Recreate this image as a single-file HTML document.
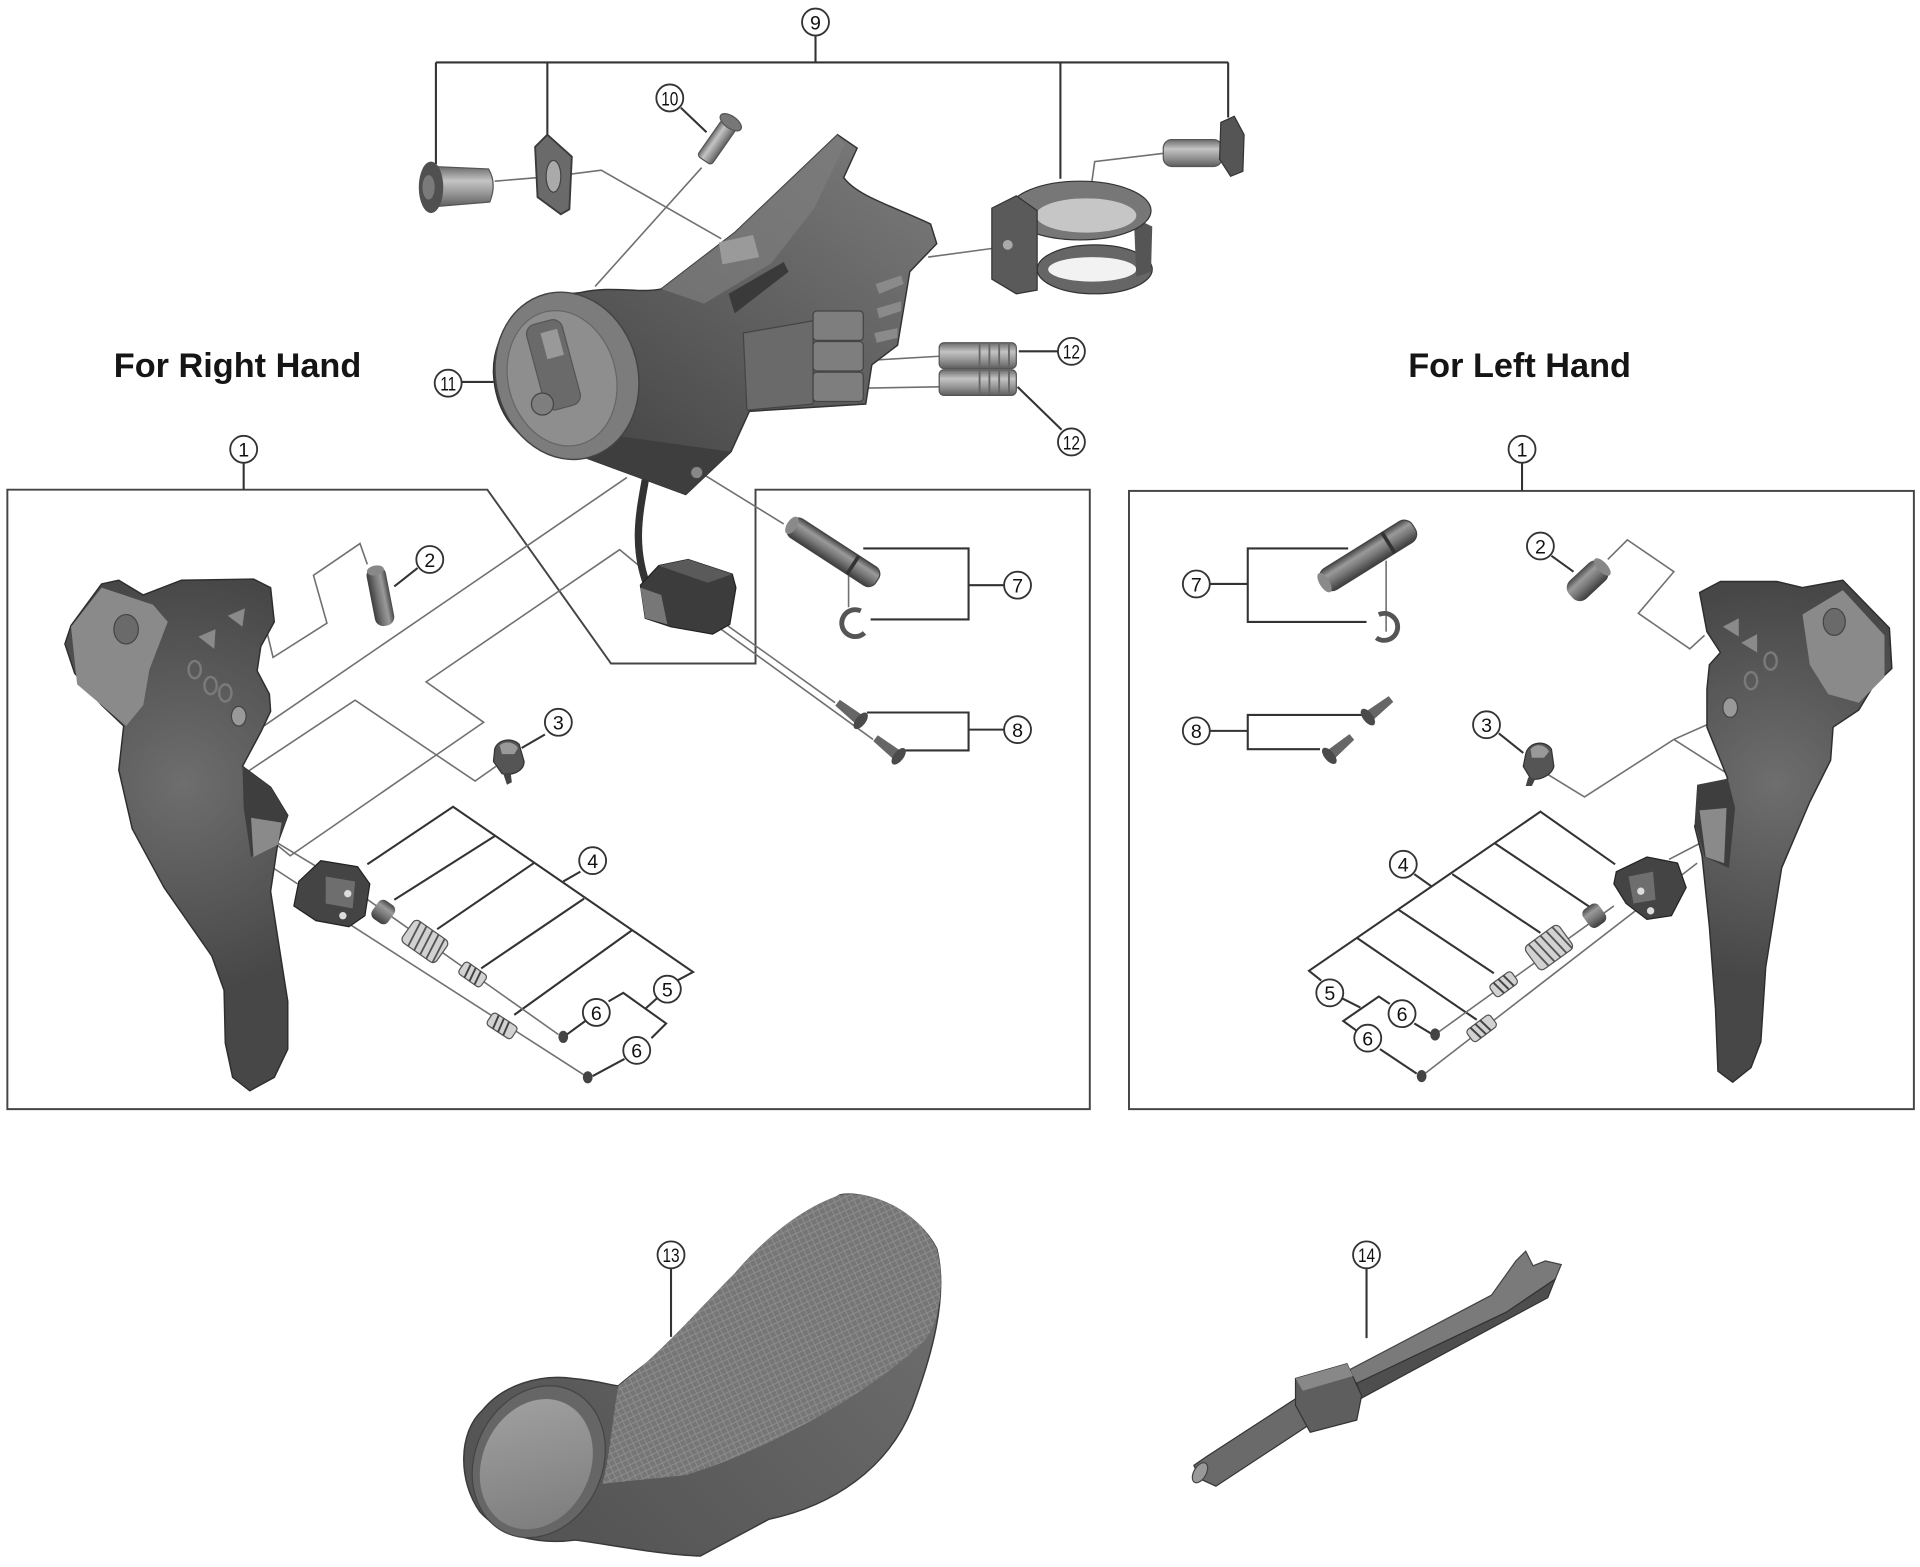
<!DOCTYPE html>
<html><head><meta charset="utf-8"><style>
html,body{margin:0;padding:0;background:#fff;}
svg{display:block;}
text{font-family:"Liberation Sans",Arial,sans-serif;}
</style></head><body>
<svg width="1920" height="1567" viewBox="0 0 1568 1280" preserveAspectRatio="none" xmlns="http://www.w3.org/2000/svg">
<defs>
<linearGradient id="cyl" x1="0" y1="0" x2="0" y2="1"><stop offset="0" stop-color="#474747"/><stop offset=".3" stop-color="#9a9a9a"/><stop offset=".6" stop-color="#777"/><stop offset="1" stop-color="#3c3c3c"/></linearGradient>
<linearGradient id="cylL" x1="0" y1="0" x2="0" y2="1"><stop offset="0" stop-color="#6a6a6a"/><stop offset=".35" stop-color="#c4c4c4"/><stop offset=".65" stop-color="#999"/><stop offset="1" stop-color="#5e5e5e"/></linearGradient>
<linearGradient id="body" gradientUnits="userSpaceOnUse" x1="700" y1="120" x2="500" y2="390"><stop offset="0" stop-color="#767676"/><stop offset=".5" stop-color="#5e5e5e"/><stop offset="1" stop-color="#454545"/></linearGradient>
<radialGradient id="lev" gradientUnits="userSpaceOnUse" cx="150" cy="640" r="170"><stop offset="0" stop-color="#6e6e6e"/><stop offset="1" stop-color="#474747"/></radialGradient>
<radialGradient id="levR" gradientUnits="userSpaceOnUse" cx="1450" cy="640" r="160"><stop offset="0" stop-color="#6e6e6e"/><stop offset="1" stop-color="#474747"/></radialGradient>
<linearGradient id="grip" gradientUnits="userSpaceOnUse" x1="760" y1="1000" x2="500" y2="1270"><stop offset="0" stop-color="#707070"/><stop offset="1" stop-color="#555"/></linearGradient>
<linearGradient id="nose" gradientUnits="userSpaceOnUse" x1="400" y1="1150" x2="480" y2="1250"><stop offset="0" stop-color="#a0a0a0"/><stop offset="1" stop-color="#7a7a7a"/></linearGradient>
<pattern id="mesh" width="7" height="7" patternUnits="userSpaceOnUse" patternTransform="rotate(20)"><path d="M0,0 L7,7 M7,0 L0,7" stroke="#9c9c9c" stroke-width="0.8"/></pattern>
</defs>
<rect width="1568" height="1280" fill="#fff"/>

<text x="194" y="308" font-size="28" font-weight="bold" text-anchor="middle" fill="#151515">For Right Hand</text>
<text x="1241" y="308" font-size="28" font-weight="bold" text-anchor="middle" fill="#151515">For Left Hand</text>

<g fill="none" stroke="#454545" stroke-width="1.6">
<path d="M6,400 L398,400 L499,542 L617,542 L617,400 L890,400 L890,906 L6,906 Z"/>
<rect x="922" y="401" width="641" height="505"/>
</g>

<g fill="none" stroke="#333" stroke-width="1.7">
<path d="M666,29 L666,51 M356,51 L1003,51 M356,51 L356,134 M447,51 L447,110 M866,51 L866,146 M1003,51 L1003,96"/>
<path d="M199,378 L199,400 M1243,378 L1243,401"/>
<path d="M832,287 L864,287 M831,316 L867,351 M377,312 L403,312 M556,88 L577,108"/>
<path d="M705,448 L791,448 L791,506 L711,506 M791,478 L820,478"/>
<path d="M708,582 L791,582 L791,613 L739,613 M791,596 L820,596"/>
<path d="M300,706 L370,659 L566,794 L553,801"/>
<path d="M404,683 L322,735 M436,705 L357,759 M477,734 L393,791 M516,760 L420,829"/>
<path d="M474,712 L460,720"/>
<path d="M497,818 L509,811 L544,836 L532,848 M537,815 L527,824"/>
<path d="M478,834 L463,845 M510,865 L484,879"/>
<path d="M988,477 L1019,477 M1101,448 L1019,448 L1019,508 L1116,508"/>
<path d="M988,597 L1019,597 M1114,584 L1019,584 L1019,612 L1078,612"/>
<path d="M1319,706 L1258,663 L1069,793 L1079,801"/>
<path d="M1221,689 L1300,742 M1186,714 L1258,762 M1142,743 L1220,795 M1108,766 L1206,833"/>
<path d="M1155,714 L1169,724"/>
<path d="M1095,815 L1111,823 M1135,820 L1126,814 L1097,834 L1108,842"/>
<path d="M1155,836 L1170,845 M1127,857 L1157,877"/>
<path d="M1224,599 L1244,615 M1267,454 L1285,467 M341,464 L322,479 M445,600 L426,611"/>
<path d="M548,1036 L548,1092 M1116,1036 L1116,1093"/>
</g>

<g fill="none" stroke="#707070" stroke-width="1.3">
<path d="M404,148 L452,144 L491,139 L589,195"/>
<path d="M573,137 L486,234"/>
<path d="M758,210 L810,203"/>
<path d="M952,125 L894,132 L885,196"/>
<path d="M716,294 L767,291 M709,317 L767,316"/>
<path d="M217,512 L223,537 L267,509 L256,470 L294,444 L300,461"/>
<path d="M512,390 L214,594 L200,587"/>
<path d="M523,463 L506,449 L348,557 L395,590 L237,699 L226,690"/>
<path d="M189,639 L290,572 L388,638 L405,626"/>
<path d="M572,386 L640,428"/>
<path d="M555,483 L682,574 M582,509 L713,604"/>
<path d="M693,468 L693,496"/>
<path d="M224,687 L262,710 M214,703 L243,722 M299,734 L456,845 M284,754 L480,880"/>
<path d="M1313,457 L1329,441 L1367,467 L1338,501 L1380,530 L1392,519"/>
<path d="M1263,632 L1294,651 L1367,604 L1403,588 M1367,604 L1417,636"/>
<path d="M1172,845 L1318,740 M1161,879 L1386,705 M1363,702 L1388,689"/>
<path d="M1132,458 L1132,516"/>
</g>

<path d="M353,136 L399,138 Q406,150 400,165 L353,169 Z" fill="url(#cylL)" stroke="#555" stroke-width="1"/>
<ellipse cx="352" cy="153" rx="10" ry="21" fill="#505050"/>
<ellipse cx="350" cy="153" rx="5" ry="10" fill="#7a7a7a"/>
<path d="M447,110 L467,128 L465,171 L458,175 L439,161 L437,120 Z" fill="#6a6a6a" stroke="#3a3a3a" stroke-width="1.5"/>
<ellipse cx="452" cy="144" rx="6" ry="13" fill="#aaa" stroke="#444"/>
<g transform="translate(575,131) rotate(-55)"><rect x="0" y="-7" width="36" height="14" rx="3" fill="url(#cylL)" stroke="#555"/><ellipse cx="38" cy="0" rx="5" ry="10" fill="#777" stroke="#555"/></g>

<path d="M474,239 C500,233 522,240 540,236 L600,190 L684,110 L700,121 L689,145 C700,160 728,168 760,183 L765,199 L743,222 L739,246 L733,282 L712,298 L707,330 L612,336 L597,369 L560,404 L476,373 C432,372 405,345 403,305 C402,268 430,242 474,239 Z" fill="url(#body)" stroke="#333" stroke-width="1.2"/>
<path d="M540,236 L600,190 L684,110 L690,118 L665,170 L630,215 L575,248 Z" fill="#7d7d7d" opacity=".7"/>
<path d="M587,198 L615,192 L620,210 L590,216 Z" fill="#9a9a9a"/>
<path d="M595,240 L640,214 L644,222 L600,256 Z" fill="#3a3a3a"/>
<path d="M715,232 L736,225 L738,232 L718,240 Z M716,252 L736,246 L736,254 L718,260 Z M714,272 L733,268 L733,276 L716,280 Z" fill="#8a8a8a"/>
<path d="M474,352 L597,369 L560,404 L476,373 Z" fill="#3e3e3e"/>
<circle cx="569" cy="386" r="5" fill="#888" stroke="#444"/>
<ellipse cx="463" cy="307" rx="58" ry="69" transform="rotate(-15 463 307)" fill="#7c7c7c" stroke="#444" stroke-width="1.2"/>
<ellipse cx="459" cy="309" rx="44" ry="56" transform="rotate(-15 459 309)" fill="#8e8e8e" stroke="#666"/>
<rect x="437" y="262" width="30" height="72" rx="8" transform="rotate(-15 452 298)" fill="#6a6a6a" stroke="#555"/>
<rect x="444" y="270" width="14" height="22" transform="rotate(-15 451 281)" fill="#999"/>
<circle cx="443" cy="330" r="9" fill="#7e7e7e" stroke="#444"/>
<path d="M607,272 L664,262 L664,330 L610,335 Z" fill="#6a6a6a" stroke="#444"/>
<rect x="664" y="254" width="41" height="24" rx="3" fill="#7e7e7e" stroke="#444"/>
<rect x="664" y="279" width="41" height="24" rx="3" fill="#7e7e7e" stroke="#444"/>
<rect x="664" y="304" width="41" height="24" rx="3" fill="#7e7e7e" stroke="#444"/>

<ellipse cx="894" cy="220" rx="47" ry="20" fill="#666" stroke="#333"/>
<ellipse cx="892" cy="220" rx="36" ry="10" fill="#f2f2f2"/>
<path d="M926,178 L941,185 L940,222 L928,226 Z" fill="#555"/>
<ellipse cx="882" cy="172" rx="58" ry="24" fill="#777" stroke="#333"/>
<ellipse cx="887" cy="176" rx="41" ry="14" fill="#c6c6c6"/>
<path d="M810,170 L830,160 L847,172 L847,237 L830,240 L810,228 Z" fill="#5a5a5a" stroke="#333"/>
<circle cx="823" cy="200" r="4" fill="#aaa"/>
<rect x="950" y="114" width="48" height="22" rx="7" fill="url(#cylL)" stroke="#555"/>
<path d="M997,100 L1008,95 L1016,110 L1015,140 L1005,144 L996,130 Z" fill="#555" stroke="#333"/>
<g stroke="#555" fill="url(#cylL)"><rect x="767" y="280" width="63" height="21" rx="4"/><rect x="767" y="302" width="63" height="21" rx="4"/></g>
<g stroke="#666" stroke-width="1.5"><path d="M800,281 L800,300 M808,281 L808,300 M816,281 L816,300 M824,281 L824,300 M800,303 L800,322 M808,303 L808,322 M816,303 L816,322 M824,303 L824,322"/></g>

<path d="M527,392 C522,420 516,448 530,482" fill="none" stroke="#333" stroke-width="6"/>
<path d="M523,478 L538,462 L562,457 L598,469 L601,480 L596,510 L582,518 L548,512 L527,505 Z" fill="#3c3c3c" stroke="#222"/>
<path d="M538,462 L562,457 L598,469 L578,476 Z" fill="#5a5a5a"/>
<path d="M523,480 L540,486 L545,510 L527,505 Z" fill="#777"/>

<path d="M53,526 L58,511 L83,477 L97,474 L117,486 L148,474 L207,473 L221,480 L224,508 L213,528 L210,548 L220,567 L221,581 L213,598 L198,626 L221,643 L235,666 L227,688 L221,728 L227,767 L235,818 L235,857 L224,880 L204,891 L190,880 L184,852 L183,809 L173,781 L134,725 L108,677 L97,629 L101,593 L83,576 L61,550 Z" fill="url(#lev)" stroke="#2e2e2e" stroke-width="1.2" stroke-linejoin="round"/>
<path d="M58,512 L83,480 L125,494 L137,508 L122,547 L117,576 L103,593 L63,559 Z" fill="#8a8a8a"/>
<ellipse cx="103" cy="514" rx="10" ry="12" fill="#6a6a6a" stroke="#444"/>
<path d="M186,503 L200,497 L198,512 Z M162,520 L176,514 L175,530 Z" fill="#8a8a8a"/>
<g fill="none" stroke="#7a7a7a" stroke-width="2"><ellipse cx="159" cy="547" rx="5" ry="7"/><ellipse cx="172" cy="560" rx="5" ry="7"/><ellipse cx="184" cy="566" rx="5" ry="7"/></g>
<ellipse cx="195" cy="585" rx="6" ry="8" fill="#999" stroke="#444"/>
<path d="M198,626 L221,643 L235,666 L227,688 L205,700 L199,660 Z" fill="#3e3e3e"/>
<path d="M205,668 L230,672 L227,690 L207,700 Z" fill="#8a8a8a"/>

<g transform="translate(306,463) rotate(79)"><rect x="0" y="-8" width="49" height="16" rx="7" fill="url(#cyl)"/><ellipse cx="3" cy="0" rx="4" ry="7" fill="#888"/></g>
<path d="M404,612 C406,604 418,602 424,608 L428,622 C428,630 418,634 410,632 L403,622 Z" fill="#555" stroke="#333"/>
<path d="M408,609 C412,605 420,606 423,611 L420,616 L410,616 Z" fill="#999"/>
<path d="M411,632 L414,641 L418,639 L417,631 Z" fill="#444"/>
<g transform="translate(645,428) rotate(33)"><rect x="0" y="-9" width="85" height="18" rx="7" fill="url(#cyl)" stroke="#444"/><rect x="60" y="-9" width="3" height="18" fill="#333"/><ellipse cx="2" cy="0" rx="4" ry="8" fill="#8a8a8a"/></g>
<path d="M703,499 A11,11 0 1,0 706,517" fill="none" stroke="#555" stroke-width="4"/>
<g transform="translate(684,574) rotate(38)"><path d="M0,-3 L22,-4.5 L22,4.5 L0,3 Z" fill="#666"/><ellipse cx="24" cy="0" rx="4" ry="8" fill="#4a4a4a"/></g>
<g transform="translate(715,603) rotate(38)"><path d="M0,-3 L22,-4.5 L22,4.5 L0,3 Z" fill="#666"/><ellipse cx="24" cy="0" rx="4" ry="8" fill="#4a4a4a"/></g>
<path d="M244,720 L262,703 L292,708 L302,722 L298,748 L285,757 L258,752 L240,740 Z" fill="#444" stroke="#222"/>
<path d="M266,716 L290,720 L288,742 L266,738 Z" fill="#6e6e6e"/>
<circle cx="284" cy="730" r="3" fill="#ddd"/><circle cx="280" cy="748" r="3" fill="#ddd"/>
<g transform="translate(313,745) rotate(35)"><rect x="-8" y="-9" width="16" height="18" rx="5" fill="url(#cyl)"/></g>
<g transform="translate(347,769) rotate(35)"><rect x="-17" y="-11" width="34" height="22" rx="4" fill="#d2d2d2" stroke="#555"/><path d="M-12,-11 L-9,11 M-6,-11 L-3,11 M0,-11 L3,11 M6,-11 L9,11 M12,-11 L15,11" stroke="#555" stroke-width="1.5"/></g>
<g transform="translate(386,796) rotate(35)"><rect x="-11" y="-6" width="22" height="12" rx="3" fill="#d2d2d2" stroke="#555"/><path d="M-6,-6 L-4,6 M-1,-6 L1,6 M4,-6 L6,6" stroke="#444" stroke-width="1.6"/></g>
<g transform="translate(410,838) rotate(33)"><rect x="-12" y="-6" width="24" height="12" rx="3" fill="#d2d2d2" stroke="#555"/><path d="M-7,-6 L-5,6 M-2,-6 L0,6 M3,-6 L5,6" stroke="#444" stroke-width="1.6"/></g>
<ellipse cx="460" cy="847" rx="4" ry="5" fill="#444"/>
<ellipse cx="480" cy="880" rx="4" ry="5" fill="#444"/>

<path d="M1388,484 L1405,475 L1451,475 L1472,480 L1505,474 L1543,513 L1545,546 L1530,560 L1518,580 L1497,594 L1495,621 L1478,655 L1455,709 L1442,790 L1438,851 L1430,872 L1415,884 L1403,875 L1401,824 L1396,757 L1390,699 L1384,675 L1392,648 L1411,636 L1394,594 L1394,563 L1396,543 L1405,533 L1394,516 Z" fill="url(#levR)" stroke="#2e2e2e" stroke-width="1.2" stroke-linejoin="round"/>
<path d="M1472,502 L1505,482 L1539,519 L1539,553 L1518,574 L1493,567 L1478,543 Z" fill="#8a8a8a"/>
<ellipse cx="1498" cy="508" rx="9" ry="11" fill="#6a6a6a" stroke="#444"/>
<path d="M1407,512 L1420,505 L1420,520 Z M1422,525 L1435,518 L1435,533 Z" fill="#8a8a8a"/>
<g fill="none" stroke="#7a7a7a" stroke-width="2"><ellipse cx="1446" cy="540" rx="5" ry="7"/><ellipse cx="1430" cy="556" rx="5" ry="7"/></g>
<ellipse cx="1413" cy="578" rx="6" ry="8" fill="#999" stroke="#444"/>
<path d="M1386,641 L1411,636 L1417,660 L1412,709 L1392,700 L1384,672 Z" fill="#3e3e3e"/>
<path d="M1388,662 L1410,660 L1408,705 L1393,700 Z" fill="#8a8a8a"/>
<g transform="translate(1283,487) rotate(-43)"><rect x="0" y="-10" width="37" height="20" rx="8" fill="url(#cyl)"/><ellipse cx="35" cy="0" rx="4" ry="9" fill="#888"/></g>
<path d="M1246,616 C1248,606 1262,604 1267,612 L1269,626 C1267,634 1256,638 1250,636 L1244,626 Z" fill="#555" stroke="#333"/>
<path d="M1250,612 C1254,607 1262,608 1265,614 L1261,619 L1251,619 Z" fill="#999"/>
<path d="M1248,635 L1246,642 L1251,642 L1254,636 Z" fill="#444"/>
<g transform="translate(1080,477) rotate(-32)"><rect x="0" y="-10" width="88" height="20" rx="8" fill="url(#cyl)" stroke="#444"/><rect x="62" y="-10" width="3" height="20" fill="#333"/><ellipse cx="2" cy="0" rx="4" ry="9" fill="#8a8a8a"/></g>
<path d="M1126,502 A11,11 0 1,1 1124,521" fill="none" stroke="#555" stroke-width="4"/>
<g transform="translate(1136,571) rotate(142)"><path d="M0,-3 L22,-4.5 L22,4.5 L0,3 Z" fill="#666"/><ellipse cx="24" cy="0" rx="4" ry="8" fill="#4a4a4a"/></g>
<g transform="translate(1104,602) rotate(140)"><path d="M0,-3 L22,-4.5 L22,4.5 L0,3 Z" fill="#666"/><ellipse cx="24" cy="0" rx="4" ry="8" fill="#4a4a4a"/></g>
<path d="M1320,712 L1345,700 L1370,705 L1377,725 L1365,748 L1345,751 L1328,738 L1318,722 Z" fill="#444" stroke="#222"/>
<path d="M1330,716 L1350,712 L1352,735 L1334,738 Z" fill="#6e6e6e"/>
<circle cx="1340" cy="728" r="3" fill="#ddd"/><circle cx="1348" cy="744" r="3" fill="#ddd"/>
<g transform="translate(1302,748) rotate(-36)"><rect x="-8" y="-9" width="16" height="18" rx="5" fill="url(#cyl)"/></g>
<g transform="translate(1265,774) rotate(-36)"><rect x="-17" y="-12" width="34" height="24" rx="4" fill="#d2d2d2" stroke="#555"/><path d="M-12,-12 L-9,12 M-6,-12 L-3,12 M0,-12 L3,12 M6,-12 L9,12 M12,-12 L15,12" stroke="#555" stroke-width="1.5"/></g>
<g transform="translate(1228,804) rotate(-36)"><rect x="-11" y="-6" width="22" height="12" rx="3" fill="#d2d2d2" stroke="#555"/><path d="M-6,-6 L-4,6 M-1,-6 L1,6 M4,-6 L6,6" stroke="#444" stroke-width="1.6"/></g>
<g transform="translate(1210,840) rotate(-37)"><rect x="-12" y="-6" width="24" height="12" rx="3" fill="#d2d2d2" stroke="#555"/><path d="M-7,-6 L-5,6 M-2,-6 L0,6 M3,-6 L5,6" stroke="#444" stroke-width="1.6"/></g>
<ellipse cx="1172" cy="845" rx="4" ry="5" fill="#444"/>
<ellipse cx="1161" cy="879" rx="4" ry="5" fill="#444"/>

<path d="M686,976 C710,972 750,990 765,1020 C775,1060 760,1110 745,1150 C725,1200 680,1230 628,1241 L572,1271 C540,1270 500,1262 470,1258 C440,1262 410,1255 392,1235 C374,1210 374,1170 394,1152 C410,1132 440,1122 468,1126 C490,1128 500,1132 505,1132 C525,1115 545,1102 560,1085 C590,1055 620,1015 686,976 Z" fill="url(#grip)" stroke="#3a3a3a" stroke-width="1.2"/>
<path d="M505,1132 C540,1105 570,1070 600,1040 C630,1005 660,985 686,976 C715,972 750,990 765,1020 C772,1045 768,1080 755,1095 C720,1130 640,1180 560,1205 L492,1212 C498,1190 500,1160 505,1132 Z" fill="#767676"/>
<path d="M505,1132 C540,1105 570,1070 600,1040 C630,1005 660,985 686,976 C715,972 750,990 765,1020 C772,1045 768,1080 755,1095 C720,1130 640,1180 560,1205 L492,1212 C498,1190 500,1160 505,1132 Z" fill="url(#mesh)" opacity=".6"/>
<ellipse cx="440" cy="1194" rx="52" ry="64" transform="rotate(25 440 1194)" fill="#666" stroke="#444"/>
<ellipse cx="438" cy="1196" rx="44" ry="55" transform="rotate(25 438 1196)" fill="url(#nose)"/>

<path d="M1238,1030 L1246,1022 L1252,1034 L1262,1030 L1275,1033 L1270,1045 L1230,1072 L1108,1130 L1100,1120 L1218,1058 Z" fill="#7a7a7a" stroke="#444"/>
<path d="M1270,1045 L1264,1060 L1112,1142 L1108,1130 L1230,1072 Z" fill="#4e4e4e" stroke="#333"/>
<path d="M1062,1140 L1072,1162 L993,1214 L980,1208 L975,1197 L985,1190 Z" fill="#6a6a6a" stroke="#333"/>
<ellipse cx="980" cy="1203" rx="5" ry="9" transform="rotate(30 980 1203)" fill="#999" stroke="#444"/>
<path d="M1058,1126 L1100,1114 L1112,1140 L1108,1160 L1070,1170 L1058,1148 Z" fill="#5e5e5e" stroke="#333"/>
<path d="M1058,1126 L1100,1114 L1105,1124 L1064,1136 Z" fill="#888"/>

<g font-size="16" text-anchor="middle" fill="#111">
<g fill="#fff" stroke="#333" stroke-width="1.5">
<circle cx="666" cy="18" r="11"/><circle cx="547" cy="80" r="11"/><circle cx="366" cy="313" r="11"/>
<circle cx="875" cy="287" r="11"/><circle cx="875" cy="361" r="11"/>
<circle cx="199" cy="367" r="11"/><circle cx="1243" cy="367" r="11"/>
<circle cx="351" cy="457" r="11"/><circle cx="456" cy="590" r="11"/><circle cx="831" cy="478" r="11"/><circle cx="831" cy="596" r="11"/>
<circle cx="484" cy="703" r="11"/><circle cx="545" cy="808" r="11"/><circle cx="487" cy="827" r="11"/><circle cx="520" cy="858" r="11"/>
<circle cx="1258" cy="446" r="11"/><circle cx="1214" cy="592" r="11"/><circle cx="977" cy="477" r="11"/><circle cx="977" cy="597" r="11"/>
<circle cx="1146" cy="706" r="11"/><circle cx="1086" cy="811" r="11"/><circle cx="1145" cy="828" r="11"/><circle cx="1117" cy="848" r="11"/>
<circle cx="548" cy="1025" r="11"/><circle cx="1116" cy="1025" r="11"/>
</g>
<text x="666" y="24">9</text>
<text x="547" y="86" textLength="14" lengthAdjust="spacingAndGlyphs">10</text>
<text x="366" y="319" textLength="13" lengthAdjust="spacingAndGlyphs">11</text>
<text x="875" y="293" textLength="14" lengthAdjust="spacingAndGlyphs">12</text>
<text x="875" y="367" textLength="14" lengthAdjust="spacingAndGlyphs">12</text>
<text x="199" y="373">1</text><text x="1243" y="373">1</text>
<text x="351" y="463">2</text><text x="456" y="596">3</text><text x="831" y="484">7</text><text x="831" y="602">8</text>
<text x="484" y="709">4</text><text x="545" y="814">5</text><text x="487" y="833">6</text><text x="520" y="864">6</text>
<text x="1258" y="452">2</text><text x="1214" y="598">3</text><text x="977" y="483">7</text><text x="977" y="603">8</text>
<text x="1146" y="712">4</text><text x="1086" y="817">5</text><text x="1145" y="834">6</text><text x="1117" y="854">6</text>
<text x="548" y="1031" textLength="14" lengthAdjust="spacingAndGlyphs">13</text>
<text x="1116" y="1031" textLength="14" lengthAdjust="spacingAndGlyphs">14</text>
</g>
</svg>
</body></html>
